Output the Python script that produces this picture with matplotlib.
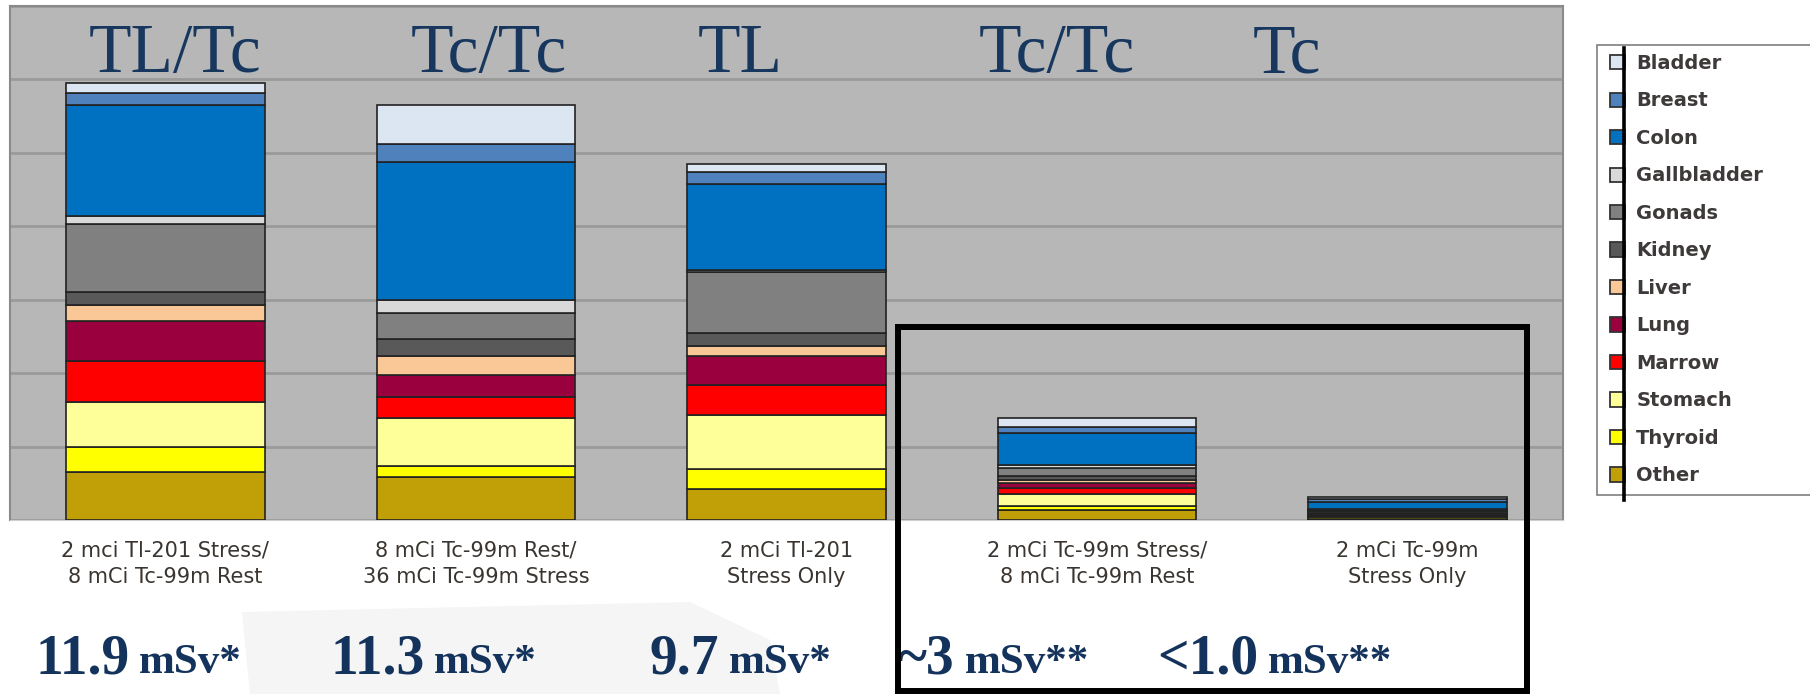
import numpy as np
import matplotlib.pyplot as plt
from matplotlib.patches import Patch, Rectangle, Polygon
from matplotlib.lines import Line2D

# protocols along the x axis
categories = [
    "2 mci Tl-201 Stress/\n8 mCi Tc-99m Rest",
    "8 mCi Tc-99m Rest/\n36 mCi Tc-99m Stress",
    "2 mCi Tl-201\nStress Only",
    "2 mCi Tc-99m Stress/\n8 mCi Tc-99m Rest",
    "2 mCi Tc-99m\nStress Only",
]
protocols = ["TL/Tc", "Tc/Tc", "TL", "Tc/Tc", "Tc"]
dose_values = ["11.9", "11.3", "9.7", "~3", "<1.0"]
dose_units = ["mSv*", "mSv*", "mSv*", "mSv**", "mSv**"]

# organ contributions (mSv), stacked bottom -> top
organs = ["Other", "Thyroid", "Stomach", "Marrow", "Lung", "Liver",
          "Kidney", "Gonads", "Gallbladder", "Colon", "Breast", "Bladder"]
other = [1.30, 1.18, 0.85, 0.27, 0.04]
thyroid = [0.70, 0.29, 0.53, 0.12, 0.03]
stomach = [1.21, 1.32, 1.49, 0.32, 0.04]
marrow = [1.11, 0.57, 0.80, 0.16, 0.03]
lung = [1.09, 0.59, 0.80, 0.13, 0.03]
liver = [0.44, 0.52, 0.26, 0.09, 0.03]
kidney = [0.35, 0.46, 0.35, 0.12, 0.04]
gonads = [1.87, 0.70, 1.68, 0.21, 0.03]
gallbladder = [0.20, 0.36, 0.05, 0.08, 0.03]
colon = [3.03, 3.76, 2.34, 0.86, 0.18]
breast = [0.34, 0.48, 0.33, 0.18, 0.10]
bladder = [0.26, 1.07, 0.22, 0.25, 0.04]

organ_doses = [other, thyroid, stomach, marrow, lung, liver,
               kidney, gonads, gallbladder, colon, breast, bladder]
colors = ["#c0a006", "#ffff00", "#ffff99", "#ff0000", "#99003d", "#fac896",
          "#595959", "#808080", "#d9d9d9", "#0070c0", "#4f81bd", "#dce6f2"]

W, H = 1810, 694


def fx(px):
    return px / W


def fy(py):
    return 1 - py / H


fig = plt.figure(figsize=(W / 100, H / 100), dpi=100)
fig.patch.set_facecolor("white")

# faint smudge behind the dose numbers
fig.add_artist(Polygon([(fx(242), fy(612)), (fx(690), fy(602)), (fx(770), fy(640)),
                        (fx(780), fy(694)), (fx(250), fy(694))],
                       closed=True, transform=fig.transFigure,
                       fc="#f5f5f5", ec="none", zorder=0))

ax = fig.add_axes([fx(10), fy(520), (1563 - 10) / W, (520 - 6) / H])
ax.set_facecolor("#b7b7b7")

x = np.arange(len(categories))
bottom = np.zeros(len(categories))
for name, vals, c in zip(organs, organ_doses, colors):
    ax.bar(x, vals, 0.64, bottom=bottom, color=c, edgecolor="#222222",
           linewidth=1.2, label=name, zorder=3)
    bottom += np.array(vals)

ax.set_xlim(-0.5, len(categories) - 0.5)
ax.set_ylim(0, 14)
ax.set_yticks(np.arange(0, 15, 2))
ax.yaxis.grid(True, color="#9a9a9a", linewidth=2)
ax.set_axisbelow(True)
ax.tick_params(axis="y", length=0, labelleft=False)
ax.set_xticks(x, categories, fontsize=15, color="#3a3530", family="DejaVu Sans",
              linespacing=1.4)
ax.tick_params(axis="x", length=0, pad=15)
for side in ["top", "right", "left"]:
    ax.spines[side].set_color("#8a8a8a")
    ax.spines[side].set_linewidth(1.5)
ax.spines["bottom"].set_color("#cfcfcf")

# protocol names across the top of the plot
protocol_x = [0.03, 1.04, 1.85, 2.87, 3.61]
for px_, label in zip(protocol_x, protocols):
    ax.text(px_, 12.2, label, ha="center", va="baseline", fontsize=50,
            family="Liberation Serif", color="#17375e", zorder=4)

# legend box
fig.add_artist(Rectangle((fx(1597), fy(495)), (1820 - 1597) / W, (495 - 45) / H,
                         transform=fig.transFigure, fc="white", ec="#7f7f7f",
                         lw=1.2, zorder=4))
handles = [Patch(facecolor=c, edgecolor="#333333", linewidth=1.3) for c in colors][::-1]
leg = fig.legend(handles, organs[::-1], loc="upper left",
                 bbox_to_anchor=(fx(1610), fy(54)), bbox_transform=fig.transFigure,
                 frameon=False, borderpad=0, borderaxespad=0,
                 handlelength=0.75, handleheight=0.75, handletextpad=0.6,
                 labelspacing=0.95, prop={"family": "DejaVu Sans", "size": 14,
                                          "weight": "bold"},
                 labelcolor="#3f3a3a")
leg.set_zorder(5)
fig.add_artist(Line2D([fx(1624), fx(1624)], [fy(48), fy(500)],
                      transform=fig.transFigure, color="black", lw=2.6, zorder=12))

# effective dose under each protocol
dose_x = [35, 330, 649, 898, 1157]
base = fy(673)
num_texts = []
for xp, val in zip(dose_x, dose_values):
    num_texts.append(fig.text(fx(xp), base, val, ha="left", va="baseline",
                              fontsize=40, weight="bold", family="Liberation Serif",
                              color="#14335c", zorder=6))
fig.canvas.draw()
renderer = fig.canvas.get_renderer()
for t, unit in zip(num_texts, dose_units):
    bb = t.get_window_extent(renderer)
    fig.text((bb.x1 + 10) / W, base, unit, ha="left", va="baseline",
             fontsize=31, weight="bold", family="Liberation Serif",
             color="#14335c", zorder=6)

# outline around the low-dose Tc-99m protocols
fig.add_artist(Rectangle((fx(898), fy(691)), (1527 - 898) / W, (691 - 327) / H,
                         transform=fig.transFigure, fill=False, ec="black",
                         lw=4.3, zorder=10))

fig.savefig("out.png", dpi=100)
